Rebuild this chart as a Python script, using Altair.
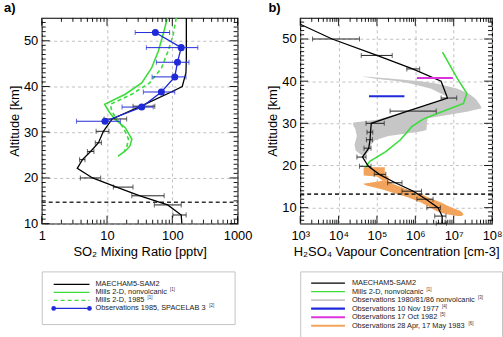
import altair as alt
import pandas as pd

FONT = "Liberation Sans"
GREEN = "#3cdc3c"
BLUE = "#1f2ad8"
MAGENTA = "#dc34dc"
ORANGE = "#f2a35c"
GRAY = "#c6c6c6"

# ---------------- (a) SO2 mixing ratio [pptv] ----------------
# MAECHAM5-SAM2 profile with model variability
so2_mod_km = [10.0, 11.9, 14.1, 16.1, 18.0, 20.0, 22.1, 24.0, 25.8, 27.7, 30.2, 32.9, 35.7, 38.9, 40.0, 43.0, 46.1, 55.0]
so2_mod_val = [140, 137, 85, 32, 14, 6.0, 3.5, 4.2, 5.6, 7.4, 8.8, 12.0, 33, 100, 142, 162, 164, 164]
so2_mod_lo = [None, 102, 53, 24, 12.5, 3.9, None, 3.8, 5.0, 6.6, 6.8, 9.0, 25, None, None, None, None, None]
so2_mod_hi = [None, 163, 137, 75, 25, 8.0, None, 4.6, 6.3, 8.2, 10.7, 20, 54, None, None, None, None, None]

# Mills 2-D, nonvolcanic
so2_mills_km = [55.0, 51.3, 47.7, 44.0, 40.8, 38.3, 36.1, 34.6, 32.8, 31.0, 28.5, 27.0, 25.9, 24.7]
so2_mills_val = [84, 72, 61, 48, 34, 19, 9.2, 10.6, 13.3, 19, 24, 22.5, 19, 14.7]

# Mills 2-D, 1985
so2_m85_km = [55.0, 51.3, 47.7, 44.0, 40.8, 38.3, 36.1, 34.6, 32.8, 31.0, 28.5, 26.7, 25.9]
so2_m85_val = [115, 103, 86, 68, 45, 24, 11.2, 11.9, 14, 17.8, 21.3, 20, 18.5]

# Observations 1985, SPACELAB 3
so2_obs_km = [51.8, 48.5, 45.3, 42.1, 38.8, 35.5, 32.4]
so2_obs_val = [55, 137, 120, 109, 68, 34, 9.3]
so2_obs_lo = [27, 40, 57, 49, 36, 17, 3.4]
so2_obs_hi = [91, 246, 180, 162, 109, 51, 16]

so2_tropopause_km = [14.7]

# ---------------- (b) H2SO4 vapour concentration [cm-3] ----------------
h2so4_mod_km = [53.5, 50.0, 46.1, 42.9, 40.0, 36.0, 32.9, 30.0, 27.9, 26.1, 24.1, 22.0, 19.8, 17.9, 15.9, 13.9, 12.0, 10.0, 8.0, 6.3]
h2so4_mod_val = [1.0e3, 6.8e3, 1.0e5, 8.5e5, 4.7e6, 6.9e6, 6.3e5, 7.1e4, 6.8e4, 6.6e4, 6.1e4, 4.2e4, 6.0e4, 1.15e5, 3.0e5, 8.9e5, 1.9e6, 3.9e6, 5.0e6, 5.0e6]
h2so4_mod_lo = [None, 2.1e3, 3.9e4, 6.0e5, None, 4.7e6, 2.2e5, 5.2e4, 5.5e4, 5.3e4, 4.6e4, 3.0e4, 3.5e4, 8.5e4, 1.9e5, 4.5e5, 1.1e6, 2.0e6, 3.2e6, 3.5e6]
h2so4_mod_hi = [None, 3.5e4, 2.5e5, 1.3e6, None, 1.2e7, 3.5e6, 1.55e5, 7.8e4, 7.6e4, 7.0e4, 5.2e4, 7.0e4, 1.7e5, 4.5e5, 1.45e6, 2.9e6, 4.5e6, 6.3e6, 6.5e6]

h2so4_mills_km = [46.9, 40.6, 37.1, 34.7, 32.4, 31.0, 29.2, 26.1, 23.3, 21.0, 19.5]
h2so4_mills_val = [5.1e6, 1.25e7, 2.2e7, 1.8e7, 3.9e6, 1.6e6, 8.1e5, 4.1e5, 1.7e5, 6.5e4, 5.0e4]

# Observations 1980/81/86 nonvolcanic (range), upper and lower lobes
gray_up_km = [41.1, 40.6, 40.0, 39.4, 38.2, 37.0, 36.0]
gray_up_lo = [4.2e4, 9.3e4, 3.7e5, 7.9e5, 2.6e6, 4.7e6, 8.3e6]
gray_up_hi = [4.8e4, 2.5e5, 1.3e6, 3.9e6, 1.26e7, 2.5e7, 3.5e7]
gray_low_km = [36.0, 35.5, 34.3, 33.6, 32.75, 32.0, 31.2, 30.8, 30.2, 29.6, 28.4, 28.0, 27.0, 26.0, 25.0, 23.5, 22.3]
gray_low_lo = [8.3e6, 4.7e6, 2.0e6, 1.1e6, 5.6e5, 2.8e5, 1.4e5, 9.3e4, 2.4e4, 2.4e4, 2.8e4, 2.8e4, 3.0e4, 2.8e4, 2.6e4, 2.8e4, 4.2e4]
gray_low_hi = [3.5e7, 4.0e7, 4.9e7, 5.4e7, 2.2e7, 6.9e6, 2.1e6, 2.1e6, 2.0e6, 2.0e6, 1.95e6, 1.26e6, 2.0e5, 8.9e4, 7.1e4, 6.3e4, 4.8e4]

# Observations 28 Apr, 17 May 1983 (range)
orange_up_km = [19.6, 17.6, 17.4, 16.4]
orange_up_lo = [4.5e4, 4.5e4, 1.0e5, 1.4e5]
orange_up_hi = [1.6e5, 1.6e5, 2.0e5, 2.0e5]
orange_low_km = [16.4, 15.65, 15.3, 14.3, 13.15, 12.4, 11.2, 10.4, 9.2, 8.8, 8.3, 8.0]
orange_low_lo = [1.4e5, 4.4e4, 5.0e4, 1.4e5, 3.5e5, 6.6e5, 1.4e6, 2.1e6, 3.5e6, 4.7e6, 7.9e6, 1.26e7]
orange_low_hi = [2.0e5, 2.5e5, 3.2e5, 6.3e5, 1.45e6, 2.2e6, 4.7e6, 7.1e6, 1.5e7, 1.7e7, 1.8e7, 1.6e7]

# Single-profile observations
obs77_km, obs77_lo, obs77_hi = [36.4], [6.2e4], [5.2e5]
obs82_km, obs82_lo, obs82_hi = [40.75], [1.1e6], [9.5e6]

h2so4_tropopause_km = [13.2]

# ---------------- helpers ----------------
SUP = ["\u2070", "\u00b9", "\u00b2", "\u00b3", "\u2074", "\u2075", "\u2076", "\u2077", "\u2078", "\u2079"]


class Panel:
    """Shared scales and axes for all layers of one panel."""

    def __init__(self, xs, ys, xaxis, yaxis, W, H):
        self.xs, self.ys, self.xaxis, self.yaxis, self.W, self.H = xs, ys, xaxis, yaxis, W, H

    def X(self, f):
        return alt.X(f, scale=self.xs, axis=self.xaxis)

    def Y(self, f):
        return alt.Y(f, scale=self.ys, axis=self.yaxis)


def profile(p, km, val, color, dash=None, width=1.4):
    df = pd.DataFrame({"km": km, "v": val, "i": range(len(km))})
    kw = dict(color=color, strokeWidth=width, clip=True)
    if dash:
        kw["strokeDash"] = dash
    return alt.Chart(df).mark_line(**kw).encode(x=p.X("v:Q"), y=p.Y("km:Q"), order="i:Q")


def errorbars(p, km, lo, hi, color, cap=5):
    df = pd.DataFrame({"km": km, "lo": lo, "hi": hi}).dropna()
    base = alt.Chart(df)
    bar = base.mark_rule(color=color, strokeWidth=1).encode(x=p.X("lo:Q"), x2="hi:Q", y=p.Y("km:Q"))
    c1 = base.mark_tick(orient="vertical", color=color, size=cap, thickness=1).encode(x=p.X("lo:Q"), y=p.Y("km:Q"))
    c2 = base.mark_tick(orient="vertical", color=color, size=cap, thickness=1).encode(x=p.X("hi:Q"), y=p.Y("km:Q"))
    return [bar, c1, c2]


def band(p, km, lo, hi, color):
    df = pd.DataFrame({"km": km, "lo": lo, "hi": hi})
    return alt.Chart(df).mark_area(orient="horizontal", color=color, opacity=1, clip=True).encode(
        y=p.Y("km:Q"), x=p.X("lo:Q"), x2="hi:Q")


def frame_ticks(p, x_major, x_minor, y_major, y_minor, big=8, small=4):
    out = []
    W, H = p.W, p.H
    for vals, L in ((x_major, big), (x_minor, small)):
        base = alt.Chart(pd.DataFrame({"v": vals})).mark_rule(color="black", strokeWidth=0.9)
        out.append(base.encode(x=p.X("v:Q"), y=alt.value(0), y2=alt.value(L)))
        out.append(base.encode(x=p.X("v:Q"), y=alt.value(H - L), y2=alt.value(H)))
    for vals, L in ((y_major, big), (y_minor, small)):
        base = alt.Chart(pd.DataFrame({"km": vals})).mark_rule(color="black", strokeWidth=0.9)
        out.append(base.encode(y=p.Y("km:Q"), x=alt.value(0), x2=alt.value(L)))
        out.append(base.encode(y=p.Y("km:Q"), x=alt.value(W - L), x2=alt.value(W)))
    return out


def hline(p, km):
    return alt.Chart(pd.DataFrame({"km": km})).mark_rule(
        color="#333333", strokeDash=[4, 3], strokeWidth=1.6).encode(
        y=p.Y("km:Q"), x=alt.value(0), x2=alt.value(p.W))


def y_axis():
    return alt.Axis(values=[10, 20, 30, 40, 50], grid=True, gridDash=[3, 3], gridColor="#b0b0b0",
                    gridWidth=0.8, ticks=False, tickSize=0, domain=False, labelPadding=4,
                    title="Altitude [km]", titlePadding=2)


def arial_width(s, size):
    w = {" ": 278, ",": 278, "-": 333, ".": 278, "/": 278, "[": 278, "]": 278}
    upper = dict(zip("ABCDEFGHIJKLMNOPQRSTUVWXYZ",
                     [667, 667, 722, 722, 667, 611, 778, 722, 278, 500, 667, 556, 833,
                      722, 778, 667, 778, 722, 667, 611, 722, 667, 944, 667, 667, 611]))
    lower = dict(zip("abcdefghijklmnopqrstuvwxyz",
                     [556, 556, 500, 556, 556, 278, 556, 556, 222, 222, 500, 222, 833,
                      556, 556, 556, 556, 333, 500, 278, 556, 500, 722, 500, 500, 500]))
    total = 0
    for ch in s:
        total += w.get(ch) or upper.get(ch) or lower.get(ch) or 556
    return total * size / 1000.0


def legend(labels, refs, colors, dashes, widths, dots, W, H, dom, x0, x1, tx, fs=7.4):
    refx = [tx + arial_width(l, fs) + 3 for l in labels]
    df = pd.DataFrame({"row": range(len(labels)), "label": labels, "ref": refs, "color": colors,
                       "dash": dashes, "w": widths, "dot": dots, "refx": refx})
    y = alt.Y("row:Q", scale=alt.Scale(domain=dom, reverse=True), axis=None)
    base = alt.Chart(df)
    solid = base.transform_filter("!datum.dash").mark_rule().encode(
        x=alt.value(x0), x2=alt.value(x1), y=y,
        color=alt.Color("color:N", scale=None), strokeWidth=alt.StrokeWidth("w:Q", scale=None))
    dashed = base.transform_filter("datum.dash").mark_rule(strokeDash=[4, 3]).encode(
        x=alt.value(x0), x2=alt.value(x1), y=y,
        color=alt.Color("color:N", scale=None), strokeWidth=alt.StrokeWidth("w:Q", scale=None))
    d1 = base.transform_filter("datum.dot").mark_circle(size=22, opacity=1).encode(
        x=alt.value(x0), y=y, color=alt.Color("color:N", scale=None))
    d2 = base.transform_filter("datum.dot").mark_circle(size=22, opacity=1).encode(
        x=alt.value(x1), y=y, color=alt.Color("color:N", scale=None))
    text = base.mark_text(align="left", baseline="middle", fontSize=fs, font=FONT, color="#222222").encode(
        x=alt.value(tx), y=y, text="label:N")
    rtext = base.mark_text(align="left", baseline="middle", fontSize=4.5, font=FONT, color="#333333", dy=-2).encode(
        x=alt.X("refx:Q", scale=None), y=y, text="ref:N")
    return alt.layer(solid, dashed, d1, d2, text, rtext).properties(
        width=W, height=H, view=alt.ViewBackground(stroke="#c4c4c4", strokeWidth=1))


# ---------------- panel (a) ----------------
xa_axis = alt.Axis(values=[1, 10, 100, 1000], format="d", grid=True, gridDash=[3, 3], gridColor="#b0b0b0",
                   gridWidth=0.8, ticks=False, tickSize=0, domain=False, labelFlush=False, labelPadding=6,
                   title="SO\u2082 Mixing Ratio [pptv]", titlePadding=3)
pa = Panel(alt.Scale(type="log", domain=[1, 1000]), alt.Scale(domain=[10, 55], nice=False, zero=False),
           xa_axis, y_axis(), 197, 207)

a_minor_x = [d * 10 ** k for k in range(3) for d in range(2, 10)]
a_minor_y = [k for k in range(11, 55) if k % 10]

layers_a = [
    hline(pa, so2_tropopause_km),
    profile(pa, so2_mills_km, so2_mills_val, GREEN, width=1.6),
    profile(pa, so2_m85_km, so2_m85_val, GREEN, dash=[4, 3], width=1.6),
]
layers_a += errorbars(pa, so2_mod_km, so2_mod_lo, so2_mod_hi, "#222222")
layers_a.append(profile(pa, so2_mod_km, so2_mod_val, "black", width=1.3))
layers_a += errorbars(pa, so2_obs_km, so2_obs_lo, so2_obs_hi, BLUE)
layers_a.append(profile(pa, so2_obs_km, so2_obs_val, BLUE, width=1.3))
layers_a.append(alt.Chart(pd.DataFrame({"km": so2_obs_km, "v": so2_obs_val})).mark_circle(
    size=50, color=BLUE, opacity=1).encode(x=pa.X("v:Q"), y=pa.Y("km:Q")))
layers_a += frame_ticks(pa, [1, 10, 100, 1000], a_minor_x, [10, 20, 30, 40, 50], a_minor_y)

panel_a = alt.layer(*layers_a).properties(
    width=pa.W, height=pa.H,
    title=alt.TitleParams("a)", anchor="start", frame="group", dx=-38, fontSize=13, fontWeight="bold",
                          font=FONT, offset=2))

# ---------------- panel (b) ----------------
xb_axis = alt.Axis(values=[1e3, 1e4, 1e5, 1e6, 1e7, 1e8], grid=True, gridDash=[3, 3], gridColor="#b0b0b0",
                   gridWidth=0.8, ticks=False, tickSize=0, domain=False, labelFlush=False, labelPadding=6,
                   labelExpr="'10' + " + str(SUP).replace(" ", "") + "[round(log(datum.value) / LN10)]",
                   title="H\u2082SO\u2084 Vapour Concentration [cm-3]", titlePadding=3)
pb = Panel(alt.Scale(type="log", domain=[1e3, 1e8]), alt.Scale(domain=[6.2, 55], nice=False, zero=False),
           xb_axis, y_axis(), 193, 207)

b_minor_x = [d * 10 ** k for k in range(3, 8) for d in range(2, 10)]
b_minor_y = [k for k in range(7, 55) if k % 10]

layers_b = [
    band(pb, gray_up_km, gray_up_lo, gray_up_hi, GRAY),
    band(pb, gray_low_km, gray_low_lo, gray_low_hi, GRAY),
    band(pb, orange_up_km, orange_up_lo, orange_up_hi, ORANGE),
    band(pb, orange_low_km, orange_low_lo, orange_low_hi, ORANGE),
    hline(pb, h2so4_tropopause_km),
    profile(pb, h2so4_mills_km, h2so4_mills_val, GREEN, width=1.6),
]
layers_b += errorbars(pb, h2so4_mod_km, h2so4_mod_lo, h2so4_mod_hi, "#222222")
layers_b.append(profile(pb, h2so4_mod_km, h2so4_mod_val, "black", width=1.3))
for km, lo, hi, col in ((obs77_km, obs77_lo, obs77_hi, BLUE), (obs82_km, obs82_lo, obs82_hi, MAGENTA)):
    layers_b.append(alt.Chart(pd.DataFrame({"km": km, "lo": lo, "hi": hi})).mark_rule(
        color=col, strokeWidth=2).encode(x=pb.X("lo:Q"), x2="hi:Q", y=pb.Y("km:Q")))
layers_b += frame_ticks(pb, [1e3, 1e4, 1e5, 1e6, 1e7, 1e8], b_minor_x, [10, 20, 30, 40, 50], b_minor_y)

panel_b = alt.layer(*layers_b).properties(
    width=pb.W, height=pb.H,
    title=alt.TitleParams("b)", anchor="start", frame="group", dx=-32, fontSize=13, fontWeight="bold",
                          font=FONT, offset=2))

# ---------------- legends ----------------
leg_a = legend(
    ["MAECHAM5-SAM2", "Mills 2-D, nonvolcanic", "Mills 2-D, 1985", "Observations 1985, SPACELAB 3"],
    ["", "[1]", "[1]", "[2]"],
    ["black", GREEN, GREEN, BLUE],
    [False, False, True, False],
    [1.2, 1.4, 1.4, 1.2],
    [False, False, False, True],
    194, 53, [-1.6, 4.94], 12, 48, 54,
)
leg_b = legend(
    ["MAECHAM5-SAM2", "Mills 2-D, nonvolcanic", "Observations 1980/81/86 nonvolcanic",
     "Observations 10 Nov 1977", "Observations 17 Oct 1982", "Observations 28 Apr, 17 May 1983"],
    ["", "[1]", "[3]", "[4]", "[5]", "[6]"],
    ["black", GREEN, GRAY, BLUE, MAGENTA, ORANGE],
    [False] * 6,
    [1.3, 1.4, 2.0, 2.4, 2.0, 2.0],
    [False] * 6,
    203, 67, [-1.36, 6.43], 11, 45, 52,
)

chart = alt.hconcat(
    alt.vconcat(panel_a, leg_a, spacing=11),
    alt.vconcat(panel_b, leg_b, spacing=11),
    spacing=12,
).properties(padding={"left": 3, "top": 1, "right": 0, "bottom": 0}).configure_view(
    stroke="black", strokeWidth=1.1
).configure_axis(
    labelFont=FONT, labelFontSize=13, labelColor="black", titleFont=FONT, titleFontSize=13,
    titleFontWeight="normal", titleColor="black"
).configure_title(font=FONT)

chart.save("out.html", embed_options={"renderer": "svg", "actions": False})
